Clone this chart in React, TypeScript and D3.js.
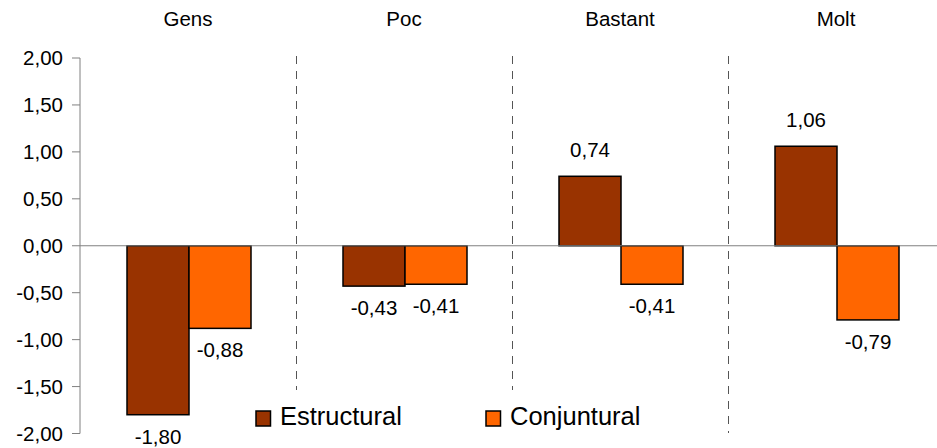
import React from "react";
import * as d3 from "d3";

const categories = ["Gens", "Poc", "Bastant", "Molt"];
const seriesNames = ["Estructural", "Conjuntural"];
const estructural = [-1.8, -0.43, 0.74, 1.06];
const conjuntural = [-0.88, -0.41, -0.41, -0.79];
const yTicks = [2, 1.5, 1, 0.5, 0, -0.5, -1, -1.5, -2];
const colors = ["#993300", "#FF6600"];

const W = 937;
const H = 448;
const FONT = "Arial, 'Liberation Sans', Helvetica, sans-serif";
const FS = 20.5;

const locale = d3.formatLocale({ decimal: ",", thousands: ".", grouping: [3], currency: ["", "€"], minus: "-" });
const fmt = locale.format(".2f");

export default function App() {
  const y = d3.scaleLinear().domain([-2, 2]).range([433.5, 58]);
  const x = d3.scaleBand<string>().domain(categories).range([81, 945]).paddingInner(0).paddingOuter(0);
  const xs = d3.scaleBand<string>().domain(seriesNames).range([46, 170]);
  const series = [estructural, conjuntural];
  const axisX = 80;

  return (
    <svg width={W} height={H} style={{ position: "absolute", left: 0, top: 0, background: "#fff" }} fontFamily={FONT}>
      {/* category labels */}
      {categories.map((c) => (
        <text key={c} x={x(c)! + x.bandwidth() / 2 - 1} y={26} fontSize={FS} textAnchor="middle" fill="#000">
          {c}
        </text>
      ))}
      {/* separators */}
      {categories.slice(1).map((c) => (
        <line key={c} x1={x(c)! - 0.5} x2={x(c)! - 0.5} y1={56} y2={433} stroke="#555" strokeWidth={1} strokeDasharray="8,7" />
      ))}
      {/* y axis */}
      <line x1={axisX} x2={axisX} y1={y(2)} y2={y(-2)} stroke="#808080" strokeWidth={1} />
      {yTicks.map((t) => (
        <g key={t}>
          <line x1={axisX - 8} x2={axisX} y1={y(t)} y2={y(t)} stroke="#808080" strokeWidth={1} />
          <text x={63} y={y(t)} dy="0.35em" fontSize={FS} textAnchor="end" fill="#000">
            {fmt(t)}
          </text>
        </g>
      ))}
      {/* bars */}
      {series.map((vals, si) =>
        vals.map((v, ci) => {
          const cx = x(categories[ci])! + xs(seriesNames[si])!;
          const y0 = y(0);
          const y1 = y(v);
          return (
            <rect
              key={`${si}-${ci}`}
              x={cx}
              y={Math.min(y0, y1)}
              width={xs.bandwidth()}
              height={Math.abs(y1 - y0)}
              fill={colors[si]}
              stroke="#000"
              strokeWidth={1.5}
            />
          );
        })
      )}
      {/* zero line */}
      <line x1={axisX} x2={W} y1={y(0)} y2={y(0)} stroke="#808080" strokeWidth={1} />
      {/* value labels */}
      {series.map((vals, si) =>
        vals.map((v, ci) => {
          const cx = x(categories[ci])! + xs(seriesNames[si])! + xs.bandwidth() / 2;
          const ly = v < 0 ? y(v) + 29 : y(v) - 19;
          return (
            <text key={`l${si}-${ci}`} x={cx} y={ly} fontSize={FS} textAnchor="middle" fill="#000">
              {fmt(v)}
            </text>
          );
        })
      )}
      {/* legend */}
      <rect x={245} y={390} width={405} height={58} fill="#fff" />
      {seriesNames.map((s, i) => {
        const lx = i === 0 ? 256 : 486;
        return (
          <g key={s}>
            <rect x={lx} y={411} width={14.5} height={15} fill={colors[i]} stroke="#000" strokeWidth={1.5} />
            <text x={lx + 24} y={425} fontSize={25.5} fill="#000">
              {s}
            </text>
          </g>
        );
      })}
    </svg>
  );
}
